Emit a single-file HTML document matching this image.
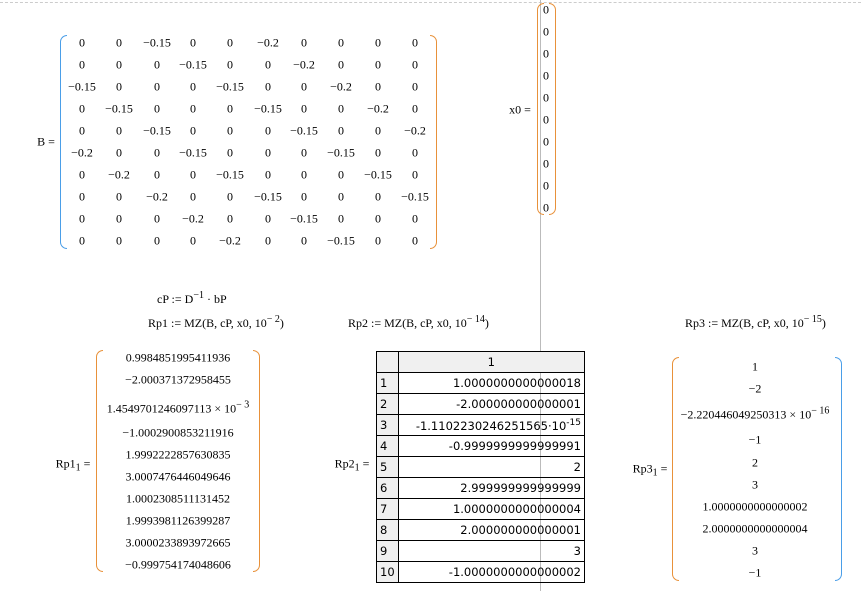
<!DOCTYPE html>
<html><head><meta charset="utf-8"><style>
body{margin:0;width:861px;height:591px;background:#fff;position:relative;overflow:hidden;font-family:"Liberation Serif",serif;font-size:12px;color:#000}
.t{position:absolute;white-space:nowrap;transform:translate(-50%,-50%)}
.l{position:absolute;white-space:nowrap}
.br{position:absolute;border:1.5px solid #e8913a;}
.bl{border-right:none;border-radius:8px 0 0 8px;width:6px}
.brr{border-left:none;border-radius:0 8px 8px 0;width:6px}
.blue{border-color:#4a9ee8}
table{position:absolute;border-collapse:collapse;font-family:"DejaVu Sans","Liberation Sans",sans-serif;font-size:11.5px}
td{border:1px solid #000;height:20px;padding:0 3px;text-align:right}
td.i{background:#f0f0f0;text-align:left;width:14px}
</style></head><body>
<div style="position:absolute;left:0;top:2px;width:861px;border-top:1px dashed #ccc"></div>
<div style="position:absolute;left:540px;top:0;height:591px;border-left:1px solid #bbb"></div>

<div class="t" style="left:46px;top:142px">B =</div>
<div class="br bl blue" style="left:60px;top:35px;height:212px"></div>
<div class="br brr" style="left:430px;top:35px;height:212px"></div>
<div id="B"></div>

<div class="t" style="left:520px;top:110px">x0 =</div>
<div class="br bl" style="left:537px;top:3px;height:210px"></div>
<div class="br brr" style="left:549px;top:3px;height:210px"></div>

<div class="l" style="left:157px;top:290px">cP := D<sup style="font-size:10px">−1</sup> · bP</div>
<div class="l" style="left:148px;top:314px">Rp1 := MZ(B, cP, x0, 10<sup style="font-size:10px">− 2</sup>)</div>
<div class="l" style="left:348px;top:314px">Rp2 := MZ(B, cP, x0, 10<sup style="font-size:10px">− 14</sup>)</div>
<div class="l" style="left:685px;top:314px">Rp3 := MZ(B, cP, x0, 10<sup style="font-size:10px">− 15</sup>)</div>

<div class="t" style="left:73px;top:465px">Rp1<sub>1</sub> =</div>
<div class="br bl" style="left:96px;top:350px;height:220px"></div>
<div class="br brr" style="left:253px;top:350px;height:220px"></div>

<div class="t" style="left:352px;top:465px">Rp2<sub>1</sub> =</div>
<div class="t" style="left:650px;top:470px">Rp3<sub>1</sub> =</div>
<div class="br bl" style="left:672px;top:357px;height:222px"></div>
<div class="br brr blue" style="left:835px;top:357px;height:222px"></div>

<table style="left:376px;top:351px;width:209px">
<tr><td class="i"></td><td style="text-align:center;background:#f0f0f0">1</td></tr>
<tr><td class="i">1</td><td>1.0000000000000018</td></tr>
<tr><td class="i">2</td><td>-2.000000000000001</td></tr>
<tr><td class="i">3</td><td>-1.1102230246251565·10<sup style="font-size:9px">-15</sup></td></tr>
<tr><td class="i">4</td><td>-0.9999999999999991</td></tr>
<tr><td class="i">5</td><td>2</td></tr>
<tr><td class="i">6</td><td>2.999999999999999</td></tr>
<tr><td class="i">7</td><td>1.0000000000000004</td></tr>
<tr><td class="i">8</td><td>2.000000000000001</td></tr>
<tr><td class="i">9</td><td>3</td></tr>
<tr><td class="i">10</td><td>-1.0000000000000002</td></tr>
</table>

<script>
var B=[[0,0,-.15,0,0,-.2,0,0,0,0],[0,0,0,-.15,0,0,-.2,0,0,0],[-.15,0,0,0,-.15,0,0,-.2,0,0],[0,-.15,0,0,0,-.15,0,0,-.2,0],[0,0,-.15,0,0,0,-.15,0,0,-.2],[-.2,0,0,-.15,0,0,0,-.15,0,0],[0,-.2,0,0,-.15,0,0,0,-.15,0],[0,0,-.2,0,0,-.15,0,0,0,-.15],[0,0,0,-.2,0,0,-.15,0,0,0],[0,0,0,0,-.2,0,0,-.15,0,0]];
var xs=[82,119,157,193,230,268,304,341,378,415],h='';
function f(v){return v==0?'0':'−'+String(-v)}
for(var r=0;r<10;r++)for(var c=0;c<10;c++)h+='<div class="t" style="left:'+xs[c]+'px;top:'+(43+r*22)+'px">'+f(B[r][c])+'</div>';
for(var i=0;i<10;i++)h+='<div class="t" style="left:546px;top:'+(10+i*22)+'px">0</div>';
var r1=['0.9984851995411936','−2.000371372958455','1.4549701246097113 × 10<sup style="font-size:10px">− 3</sup>','−1.0002900853211916','1.9992222857630835','3.0007476446049646','1.0002308511131452','1.9993981126399287','3.0000233893972665','−0.999754174048606'];
var y1=[358,380,408,433,455,477,499,521,543,565];
for(i=0;i<10;i++)h+='<div class="t" style="left:178px;top:'+y1[i]+'px">'+r1[i]+'</div>';
var r3=['1','−2','−2.220446049250313 × 10<sup style="font-size:10px">− 16</sup>','−1','2','3','1.0000000000000002','2.0000000000000004','3','−1'];
var y3=[367,389,414,440,463,485,507,529,551,573];
for(i=0;i<10;i++)h+='<div class="t" style="left:755px;top:'+y3[i]+'px">'+r3[i]+'</div>';
document.getElementById('B').innerHTML=h;
</script>
</body></html>
